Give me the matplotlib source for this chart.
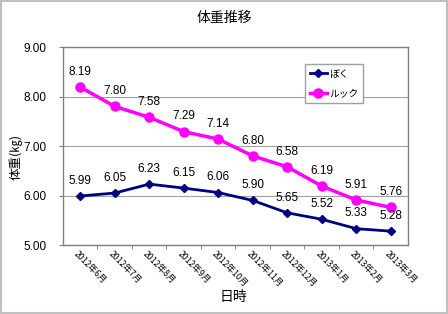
import matplotlib
matplotlib.use("Agg")
import matplotlib.pyplot as plt
from matplotlib.patches import Rectangle
import numpy as np

plt.rcParams['font.family'] = ['Noto Sans CJK JP', 'DejaVu Sans']
NUM_FONT = "Liberation Sans"

months = ["2012年6月", "2012年7月", "2012年8月", "2012年9月", "2012年10月",
          "2012年11月", "2012年12月", "2013年1月", "2013年2月", "2013年3月"]
boku = [5.99, 6.05, 6.23, 6.15, 6.06, 5.90, 5.65, 5.52, 5.33, 5.28]
ruck = [8.19, 7.80, 7.58, 7.29, 7.14, 6.80, 6.58, 6.19, 5.91, 5.76]
yticks = [5.0, 6.0, 7.0, 8.0, 9.0]

fig = plt.figure(figsize=(4.48, 3.14), dpi=100)
ax = fig.add_axes([0.1406, 0.2197, 0.770, 0.6306])

x = np.arange(len(months))
ax.plot(x, boku, color="#000080", lw=2.0, marker="D", ms=4.5, label="ぼく", zorder=3)
ax.plot(x, ruck, color="#FF00FF", lw=2.5, marker="o", ms=6.5, label="ルック", zorder=3)

# data labels above each point
for xi, v in zip(x, boku):
    ax.annotate("%.2f" % v, (xi, v), xytext=(0, 11), textcoords="offset points",
                ha="center", va="center", fontsize=8.5, family=NUM_FONT)
for xi, v in zip(x, ruck):
    ax.annotate("%.2f" % v, (xi, v), xytext=(0, 11), textcoords="offset points",
                ha="center", va="center", fontsize=8.5, family=NUM_FONT)

ax.set_xlim(-0.5, len(months) - 0.5)
ax.set_ylim(5, 9)
ax.set_yticks(yticks)
ax.set_yticklabels(["%.2f" % t for t in yticks], fontsize=8.5, family=NUM_FONT)
ax.tick_params(axis="y", length=3, color="#808080", pad=9)
ax.yaxis.grid(True, color="#A0A0A0", lw=0.8)
ax.set_axisbelow(True)

ax.set_xticks(x)
ax.set_xticklabels([])
ax.tick_params(axis="x", which="major", length=0)
ax.set_xticks(np.arange(0.5, len(months) - 0.5, 1), minor=True)
ax.tick_params(axis="x", which="minor", length=3, color="#808080")
for xi, m in zip(x, months):
    ax.text(xi - 0.05, 4.92, m, rotation=-45, rotation_mode="anchor",
            ha="left", va="top", fontsize=6.3)

for s in ax.spines.values():
    s.set_color("#808080")
    s.set_linewidth(1.0)

ax.legend(loc="upper left", bbox_to_anchor=(0.687, 0.94), fontsize=7,
          frameon=True, fancybox=False, edgecolor="#A0A0A0", framealpha=1,
          handlelength=1.8, handletextpad=0.2, borderpad=0.5, labelspacing=1.0)

fig.text(0.5, 0.943, "体重推移", ha="center", va="center", fontsize=10)
fig.text(0.52, 0.054, "日時", ha="center", va="center", fontsize=10)
fig.text(0.035, 0.50, "体重(㎏)", ha="center", va="center", rotation=90, fontsize=9)

fig.patches.append(Rectangle((0.003, 0.003), 0.994, 0.994, transform=fig.transFigure,
                             fill=False, edgecolor="#C0C0C0", lw=1.5))

fig.savefig("out.png", dpi=100)
